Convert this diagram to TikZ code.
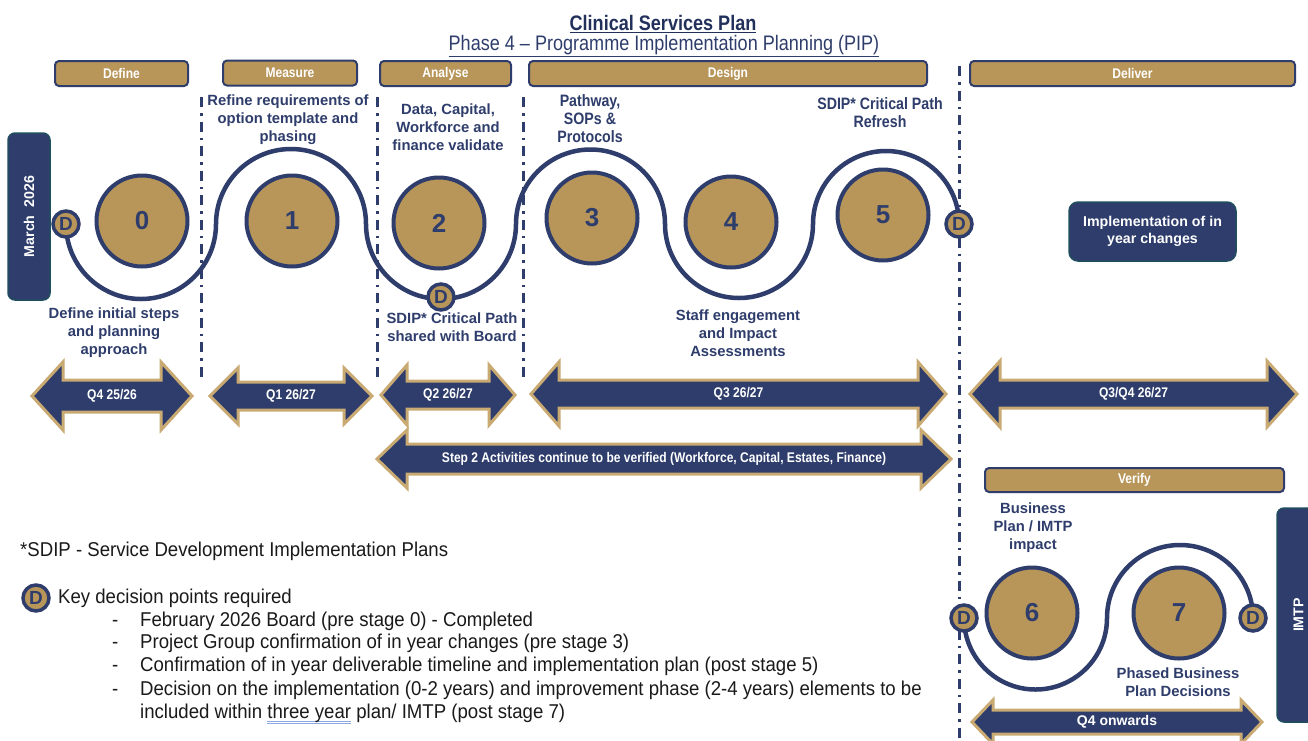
\documentclass[tikz,border=0pt]{standalone}
\usepackage{fontspec}
\setmainfont{Liberation Sans}
\newfontfamily\narrowfont[FakeStretch=0.86]{Liberation Sans}
\newfontfamily\notefont[FakeStretch=0.93]{Liberation Sans}
\usetikzlibrary{positioning, calc, backgrounds}

\definecolor{navy}{HTML}{2E3D6B}
\definecolor{navydark}{HTML}{22305C}
\definecolor{gold}{HTML}{B8965A}
\definecolor{goldline}{HTML}{C9AA72}
\definecolor{tealedge}{HTML}{1F4E5F}
\definecolor{spellblue}{HTML}{8FA8E0}
\definecolor{inktext}{HTML}{1A1A1A}

% double arrow: name, left tip, right tip, centre y, shaft half, head half, head length, label
\newcommand{\qarrow}[8]{%
  \draw[qshape] (#2,-#4) -- (#2+#7,-#4+#6) -- (#2+#7,-#4+#5) -- (#3-#7,-#4+#5) -- (#3-#7,-#4+#6)
    -- (#3,-#4) -- (#3-#7,-#4-#6) -- (#3-#7,-#4-#5) -- (#2+#7,-#4-#5) -- (#2+#7,-#4-#6) -- cycle;
  \node[qtext] (#1) at ({(#2+#3)/2},-#4) {#8};}
\newsavebox\spellbox
\newcommand{\spellmark}[1]{\sbox\spellbox{#1}%
  \rlap{\textcolor{spellblue}{\rule[-3.5pt]{\wd\spellbox}{0.9pt}}}%
  \rlap{\textcolor{spellblue}{\rule[-6pt]{\wd\spellbox}{0.9pt}}}\usebox\spellbox}
\newcommand{\itemdash}{\makebox[28pt][l]{-}}

\begin{document}
\begin{tikzpicture}[x=1pt, y=1pt,
    phase/.style={draw=navy, line width=2pt, fill=gold, rounded corners=4pt, inner sep=0pt,
      text=white, font=\narrowfont\bfseries\fontsize{14}{16}\selectfont},
    stage/.style={circle, draw=navy, line width=4pt, fill=gold, minimum size=91pt, inner sep=0pt,
      text=navy, font=\bfseries\fontsize{26}{26}\selectfont},
    decision/.style={circle, draw=navy, line width=3.5pt, fill=gold, minimum size=26pt, inner sep=0pt,
      text=navy, font=\bfseries\fontsize{19}{19}\selectfont},
    note/.style={align=center, text=navy, inner sep=0pt, font=\bfseries\fontsize{14.8}{18}\selectfont},
    notenarrow/.style={note, font=\narrowfont\bfseries\fontsize{16.5}{18}\selectfont},
    trail/.style={draw=navy, line width=4.5pt},
    divider/.style={draw=navy, line width=3pt, dash pattern=on 10pt off 6pt on 2.5pt off 6pt},
    qshape/.style={fill=navy, draw=goldline, line width=3pt, line join=miter},
    qtext/.style={text=white, inner sep=0pt, font=\narrowfont\bfseries\fontsize{14}{14}\selectfont},
    navybox/.style={fill=navy, draw=tealedge, line width=1.5pt, rounded corners=9pt, align=center,
      text=white, font=\bfseries\fontsize{14.2}{17}\selectfont},
    legend/.style={text=inktext, inner sep=0pt, font=\notefont\fontsize{20}{23}\selectfont}]
  \useasboundingbox (0,0) rectangle (1308,-740);
  \begin{scope}[on background layer]
    \fill[white] (0,0) rectangle (1308,-740);
  \end{scope}

  % Title
  \node[text=navydark, font=\narrowfont\bfseries\fontsize{21}{21}\selectfont] (title) at (663,-24) {\underline{Clinical Services Plan}};
  \node[text=navy, font=\narrowfont\fontsize{21}{21}\selectfont] (subtitle) at (664,-46) {\underline{Phase 4 – Programme Implementation Planning (PIP)}};

  % Phases
  \node[phase, minimum width=133pt, minimum height=25pt] (define) at (121.5,-73.5) {Define};
  \node[phase, minimum width=134pt, minimum height=25pt] (measure) at (290,-73) {Measure};
  \node[phase, minimum width=131pt, minimum height=25pt] (analyse) at (445.5,-73.5) {Analyse};
  \node[phase, minimum width=398pt, minimum height=25pt] (design) at (728,-73.5) {Design};
  \node[phase, minimum width=325pt, minimum height=25pt] (deliver) at (1132.5,-73.5) {Deliver};
  \node[phase, minimum width=299pt, minimum height=24pt] (verify) at (1134.5,-480) {Verify};

  % Dividers
  \draw[divider] (201,-97) -- (201,-380);
  \draw[divider] (377,-97) -- (377,-382);
  \draw[divider] (523,-97) -- (523,-380);
  \draw[divider] (959,-66) -- (959,-740);

  % Side boxes
  \node[navybox, rotate=90, minimum width=167pt, minimum height=42pt, rounded corners=7pt] (march) at (29,-216.5) {March\ \ 2026};
  \node[navybox, rotate=90, minimum width=214pt, minimum height=43pt, rounded corners=7pt] (imtp) at (1298.5,-615) {IMTP};
  \node[navybox, minimum width=167pt, minimum height=59pt] (impl) at (1152.5,-231.5) {Implementation of in\\year changes};

  % Stages
  \node[stage] (c0) at (142,-221) {0};
  \node[stage] (c1) at (292,-221) {1};
  \node[stage] (c2) at (439,-223) {2};
  \node[stage] (c3) at (592,-218) {3};
  \node[stage] (c4) at (731,-222) {4};
  \node[stage] (c5) at (883,-215) {5};
  \node[stage] (c6) at (1032,-613) {6};
  \node[stage] (c7) at (1179,-613) {7};

  % Decision points
  \node[decision] (d0) at (66,-224) {D};
  \node[decision] (d2) at (441,-297) {D};
  \node[decision] (d5) at (959,-224) {D};
  \node[decision] (d6) at (964,-618) {D};
  \node[decision] (d7) at (1253,-618) {D};

  % Path through the stages
  \begin{scope}[on background layer]
    \draw[trail] (d0.center) arc[start angle=180, end angle=360, radius=75pt]
      arc[start angle=180, end angle=0, radius=75pt]
      arc[start angle=180, end angle=360, radius=75pt]
      arc[start angle=180, end angle=0, radius=74.5pt]
      arc[start angle=180, end angle=360, radius=74pt]
      arc[start angle=180, end angle=0, radius=73pt];
    \draw[trail] (d6.center) arc[start angle=180, end angle=360, radius=71.5pt]
      arc[start angle=180, end angle=0, radius=73pt];
  \end{scope}

  % Stage notes
  \node[note] (n0) at (114,-333) {Define initial steps\\and planning\\approach};
  \node[note] (n1) at (288,-120) {Refine requirements of\\option template and\\phasing};
  \node[note] (n2) at (448,-127) {Data, Capital,\\Workforce and\\finance validate};
  \node[note] (n2b) at (452,-327) {SDIP* Critical Path\\shared with Board};
  \node[notenarrow] (n3) at (590,-119) {Pathway,\\SOPs \&\\Protocols};
  \node[notenarrow] (n5) at (880,-113) {SDIP* Critical Path\\Refresh};
  \node[note] (n4) at (738,-333) {Staff engagement\\and Impact\\Assessments};
  \node[note] (n6) at (1033,-528) {Business\\Plan / IMTP\\impact};
  \node[note] (n7) at (1178,-682) {Phased Business\\Plan Decisions};

  % Quarters
  \qarrow{q4}{32}{192}{396}{16}{34}{31}{Q4 25/26}
  \qarrow{q1}{210}{372}{396}{14}{28}{28}{Q1 26/27}
  \qarrow{q2}{381}{515}{395}{14}{30}{26}{Q2 26/27}
  \qarrow{q3}{531}{946}{394}{14}{32}{28}{Q3 26/27}
  \qarrow{q34}{970}{1297}{394}{14}{33}{30}{Q3/Q4 26/27}
  \qarrow{stepbar}{377}{951}{459}{15}{29}{30}{Step 2 Activities continue to be verified (Workforce, Capital, Estates, Finance)}
  \qarrow{qon}{972}{1262}{722}{12}{22}{21}{\normalfont\bfseries\fontsize{14}{14}\selectfont Q4 onwards}

  % Legend
  \node[legend, anchor=west] (sdip) at (20,-551) {*SDIP - Service Development Implementation Plans};
  \node[decision] (dkey) at (36,-598) {D};
  \node[legend, anchor=west] (keyd) at (58,-598) {Key decision points required};
  \node[legend, anchor=west] (k1) at (112,-621) {\itemdash February 2026 Board (pre stage 0) - Completed};
  \node[legend, anchor=west] (k2) at (112,-643) {\itemdash Project Group confirmation of in year changes (pre stage 3)};
  \node[legend, anchor=west] (k3) at (112,-666) {\itemdash Confirmation of in year deliverable timeline and implementation plan (post stage 5)};
  \node[legend, anchor=west] (k4) at (112,-690) {\itemdash Decision on the implementation (0-2 years) and improvement phase (2-4 years) elements to be};
  \node[legend, anchor=west] (k5) at (140,-714) {included within \spellmark{three year} plan/ IMTP (post stage 7)};
\end{tikzpicture}
\end{document}
